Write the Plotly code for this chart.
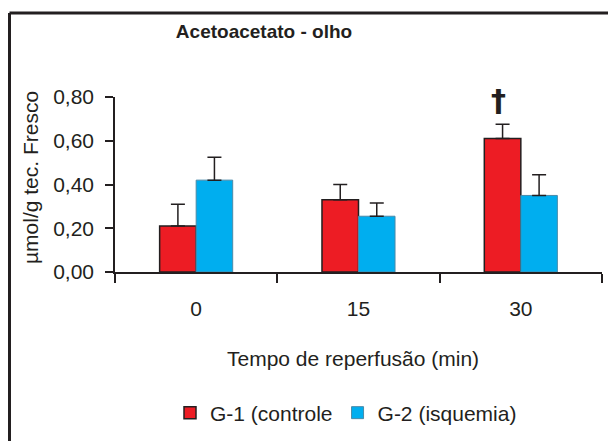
import plotly.graph_objects as go

# ---- data ----
categories = ["0", "15", "30"]
g1_values = [0.21, 0.33, 0.61]
g1_errors = [0.10, 0.07, 0.065]
g2_values = [0.42, 0.255, 0.35]
g2_errors = [0.105, 0.06, 0.095]
series_names = ["G-1 (controle", "G-2 (isquemia)"]
y_ticks = [0.0, 0.2, 0.4, 0.6, 0.8]

# ---- layout constants (pixels) ----
W, H = 608, 441
L, R, T, B = 115, 6, 97, 169
PW = W - L - R
PH = H - T - B
INK = "#231F20"
FONT = "Liberation Sans, Arial, sans-serif"
TXT = 21


def px_to_paper_x(px):
    return (px - L) / PW


def px_to_paper_y(py):
    return (H - B - py) / PH


fig = go.Figure()
fig.add_trace(go.Bar(
    x=categories, y=g1_values, name=series_names[0],
    marker=dict(color="#ED1C24", line=dict(color=INK, width=1.5)),
    error_y=dict(type="data", array=g1_errors, arrayminus=[0] * 3, symmetric=False,
                 color=INK, thickness=1.5, width=7),
))
fig.add_trace(go.Bar(
    x=categories, y=g2_values, name=series_names[1],
    marker=dict(color="#00AEEF", line=dict(color="#4a8aa8", width=1)),
    error_y=dict(type="data", array=g2_errors, arrayminus=[0] * 3, symmetric=False,
                 color=INK, thickness=1.5, width=7),
))

bargap = 0.55
bar_w = (1 - bargap) / 2

fig.update_layout(
    width=W, height=H,
    margin=dict(l=L, r=R, t=T, b=B, pad=0),
    paper_bgcolor="white", plot_bgcolor="white",
    barmode="group", bargap=bargap, bargroupgap=0,
    separators=",.",
    font=dict(family=FONT, size=TXT, color=INK),
    title=dict(text="<b>Acetoacetato - olho</b>", x=264 / W, xanchor="center",
               y=1 - 31 / H, yanchor="middle", yref="container",
               font=dict(size=19, color=INK, family=FONT)),
    showlegend=True,
    legend=dict(orientation="h", x=px_to_paper_x(346), xanchor="center",
                y=px_to_paper_y(413), yanchor="middle",
                font=dict(size=TXT, color=INK), bgcolor="rgba(0,0,0,0)",
                itemwidth=30, traceorder="normal"),
    xaxis=dict(type="category", range=[-0.5, 2.5], tickson="boundaries",
               ticks="outside", ticklen=9, tickwidth=1.5, tickcolor=INK,
               showline=True, linecolor=INK, linewidth=1.5, showgrid=False,
               zeroline=False, ticklabelstandoff=17,
               tickfont=dict(size=TXT, color=INK)),
    yaxis=dict(range=[0, 0.8], tickvals=y_ticks, tickformat=".2f",
               ticks="outside", ticklen=8, tickwidth=1.5, tickcolor=INK,
               showline=True, linecolor=INK, linewidth=1.5, showgrid=False,
               zeroline=False, ticklabelstandoff=7,
               tickfont=dict(size=TXT, color=INK)),
)

# axis titles as annotations
fig.add_annotation(text="Tempo de reperfusão (min)", xref="paper", yref="paper",
                   x=px_to_paper_x(353), y=px_to_paper_y(358), showarrow=False,
                   xanchor="center", yanchor="middle", font=dict(size=TXT, color=INK))
fig.add_annotation(text="µmol/g tec. Fresco", xref="paper", yref="paper",
                   x=px_to_paper_x(30), y=px_to_paper_y(178), showarrow=False,
                   textangle=-90, xanchor="center", yanchor="middle",
                   font=dict(size=21, color=INK))

# dagger over G-1 at 30 min
fig.add_annotation(text="<b>†</b>", xref="x", yref="paper", x=categories.index("30"),
                   xshift=-(bar_w / 2) * (PW / 3) - 4,
                   y=px_to_paper_y(100), showarrow=False,
                   xanchor="center", yanchor="middle",
                   font=dict(size=30, color=INK, family="DejaVu Sans, sans-serif"))

# outer frame (left and top edges)
fx = px_to_paper_x(9.5)
fy = px_to_paper_y(13)
fig.add_shape(type="line", xref="paper", yref="paper", x0=fx, x1=fx,
              y0=px_to_paper_y(H + 10), y1=fy, line=dict(color=INK, width=3))
fig.add_shape(type="line", xref="paper", yref="paper", x0=fx, x1=px_to_paper_x(W + 10),
              y0=fy, y1=fy, line=dict(color=INK, width=3))

fig.write_html("out.html", config={"displayModeBar": False},
               post_script="document.body.style.margin='0';document.body.style.overflow='hidden';")
